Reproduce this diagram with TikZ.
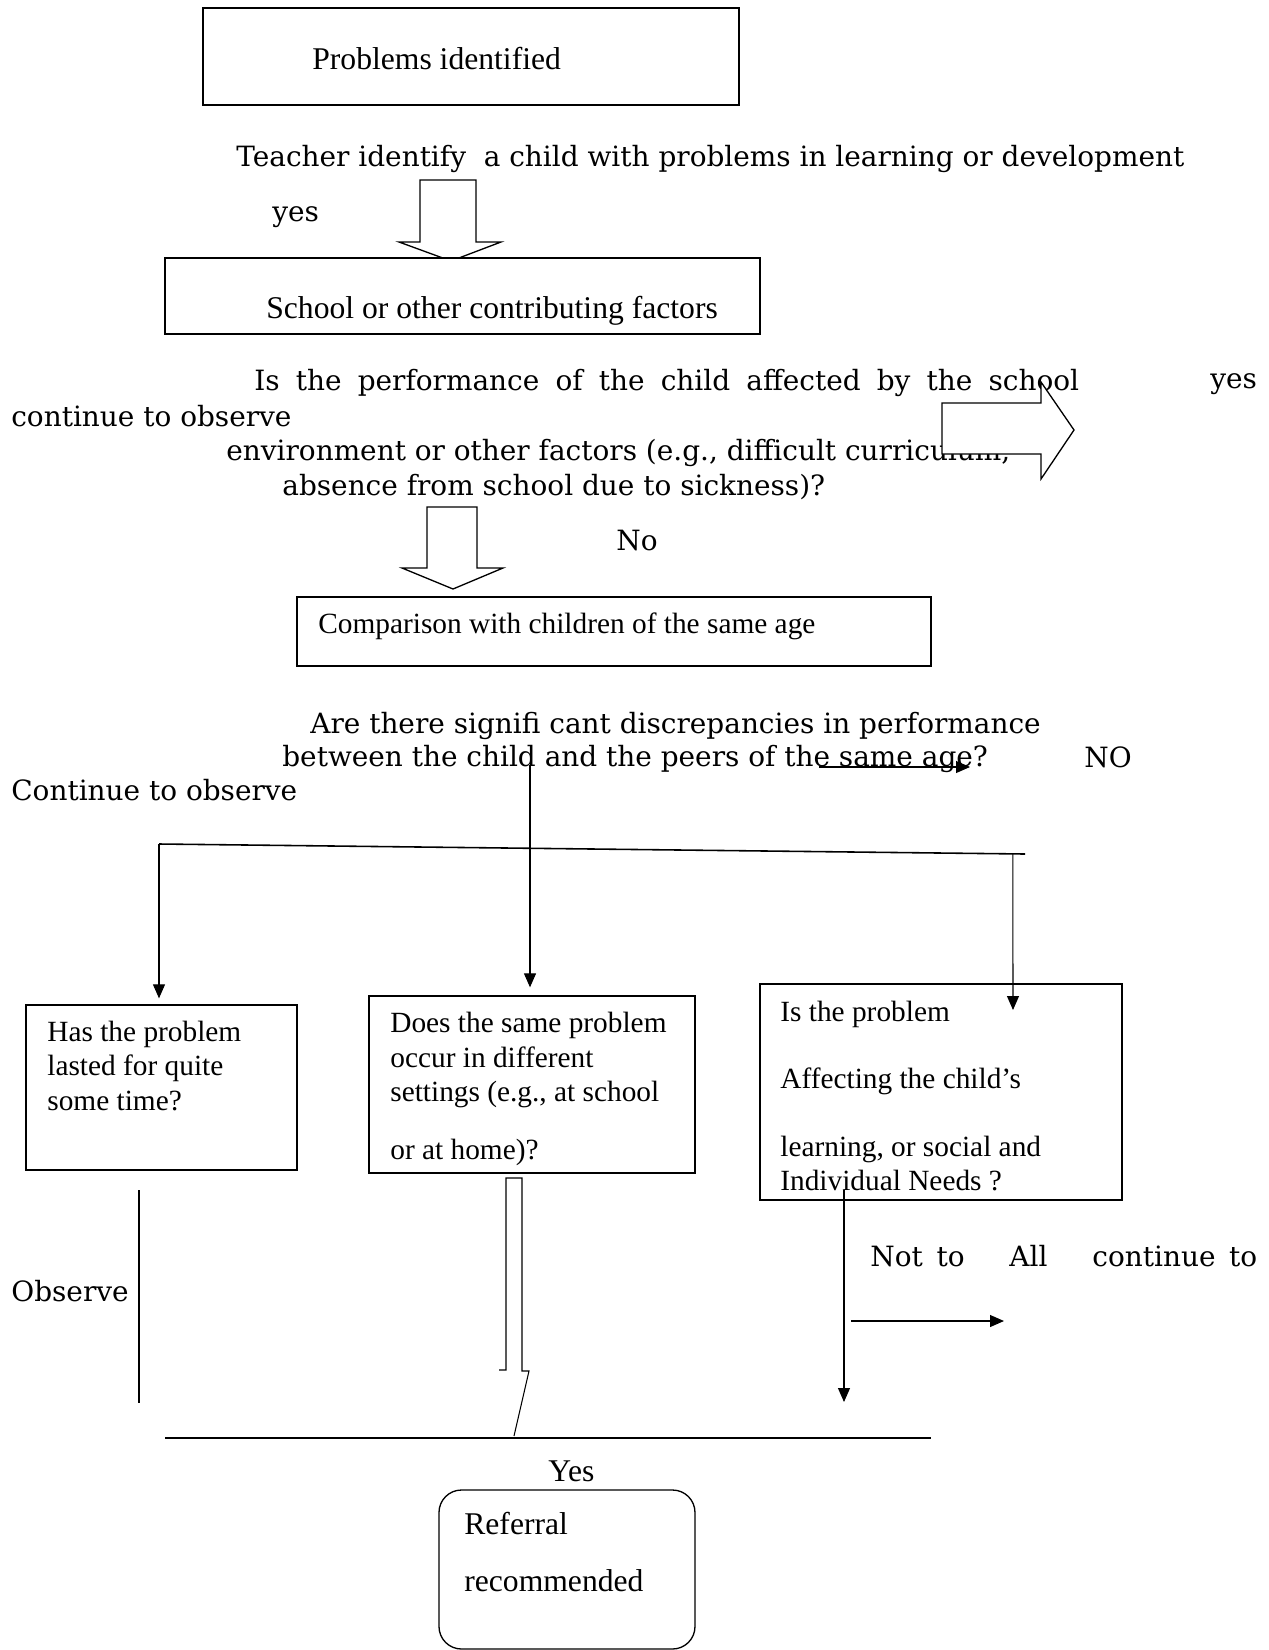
\documentclass[tikz,border=0pt]{standalone}
\usepackage{fontspec}
\setmainfont{Liberation Serif}
\newfontfamily\bookfont{DejaVu Serif}
\usetikzlibrary{arrows.meta, positioning, fit, calc}

\begin{document}
\begin{tikzpicture}[
    x=0.02cm, y=-0.02cm,
    box/.style={rectangle, draw, line width=0.75pt, inner sep=0pt},
    boxtxt/.style={inner sep=0pt, anchor=west, align=left, font=\fontsize{18}{19.4}\selectfont},
    smalltxt/.style={boxtxt, font=\fontsize{16.7}{19.4}\selectfont},
    freetxt/.style={inner sep=0pt, anchor=west, font=\bookfont\fontsize{15.9}{19.4}\selectfont},
    arrow/.style={-{Triangle[length=0.28cm, width=0.24cm]}, line width=0.6pt},
    link/.style={line width=0.6pt},
    hollow/.style={draw, fill=white, line width=0.75pt}
]
    \useasboundingbox (0,0) rectangle (1268,1650);

    % top of the chart
    \node[box, fit={(203,8) (739,105)}] (probbox) {};
    \node[boxtxt] (probtxt) at (312,59) {Problems identified};
    \node[freetxt] (teachtxt) at (236,159) {Teacher identify~ a child with problems in learning or development};
    \node[freetxt] (yestop) at (272,217) {yes};
    \draw[hollow] (420,180) -- (476,180) -- (476,242) -- (501,242) -- (451,261) -- (399,242) -- (420,242) -- cycle;
    \node[box, fill=white, fit={(165,258) (760,334)}] (schoolbox) {};
    \node[boxtxt] (schooltxt) at (266,311) {School or other contributing factors};

    % first question
    \node[freetxt] (perftxt) at (254,383) {\makebox[16.5cm][s]{Is the performance of the child affected by the school}};
    \node[freetxt] (yesright) at (1210,384) {yes};
    \node[freetxt] (contone) at (11,416) {continue to observe};
    \node[freetxt] (envtxt) at (226,453) {environment or other factors (e.g., difficult curriculum,};
    \node[freetxt] (abstxt) at (282,487) {absence from school due to sickness)?};
    \draw[hollow] (942,403) -- (1041,403) -- (1041,382) -- (1074,430) -- (1041,479) -- (1041,454) -- (942,454) -- cycle;
    \draw[hollow] (427,507) -- (477,507) -- (477,568) -- (503,568) -- (453,589) -- (402,568) -- (427,568) -- cycle;
    \node[freetxt] (notxt) at (616,541) {No};
    \node[box, fit={(297,597) (931,666)}] (compbox) {};
    \node[smalltxt] (comptxt) at (318,626) {Comparison with children of the same age};

    % second question
    \node[freetxt] (disctxt) at (310,726) {Are there signifi cant discrepancies in performance};
    \node[freetxt] (peertxt) at (282,759) {between the child and the peers of the same age?};
    \node[freetxt] (NOtxt) at (1084,757) {NO};
    \node[freetxt] (conttwo) at (11,790) {Continue to observe};
    \coordinate (noStart) at (819,767);
    \coordinate (noEnd) at (970,767);
    \draw[arrow] (noStart) -- (noEnd);

    % three checks
    \node[box, fit={(26,1005) (297,1170)}] (lastbox) {};
    \node[smalltxt] (lasttxt) at (47,1066) {Has the problem\\lasted for quite\\some time?};
    \node[box, fit={(369,996) (695,1173)}] (settingbox) {};
    \node[smalltxt] (settingtxt) at (390,1089) {Does the same problem\\occur in different\\settings (e.g., at school\\[0.48cm]or at home)?};
    \node[box, fit={(760,984) (1122,1200)}] (needbox) {};
    \node[smalltxt] (needtxt) at (780,1096) {Is the problem\\[0.67cm]Affecting the child’s\\[0.68cm]learning, or social and\\Individual Needs ?};

    \coordinate (dropM) at (530,765);
    \coordinate (splitL) at (159,844);
    \coordinate (splitR) at (1025,854);
    \coordinate (dropR) at ($(splitL)!0.986!(splitR)$);
    \coordinate (needTip) at (1013,1010);
    \draw[line width=0.9pt] (splitL) -- (splitR);
    \draw[arrow] (dropM) -- ($(dropM |- settingbox.north)+(0,-8)$);
    \draw[arrow] (splitL) -- ($(splitL |- lastbox.north)+(0,-6)$);
    \draw[arrow] (dropR) -- (needTip);

    % outcomes
    \node[freetxt] (obstxt) at (11,1291) {Observe};
    \coordinate (lastOut) at (139,1190);
    \coordinate (lastEnd) at (139,1403);
    \draw[link] (lastOut) -- (lastEnd);
    \draw[link] (499,1370) -- (506,1370) -- (506,1178) -- (522,1178) -- (522,1371) -- (529,1371) -- (514,1436);
    \coordinate (needOut) at (844,1190);
    \coordinate (needEnd) at (844,1402);
    \draw[arrow] (needOut) -- (needEnd);
    \node[freetxt] (notall) at (870,1256) {\makebox[7.74cm][s]{Not to \hspace{0.35cm} All \hspace{0.35cm} continue to}};
    \coordinate (allStart) at (851,1321);
    \coordinate (allEnd) at (1004,1321);
    \draw[arrow] (allStart) -- (allEnd);

    \coordinate (joinL) at (165,1438);
    \coordinate (joinR) at (931,1438);
    \draw[line width=0.9pt] (joinL) -- (joinR);
    \node[boxtxt] (yesbot) at (548,1471) {Yes};
    \node[box, rounded corners=0.45cm, fit={(439,1490) (695,1649)}] (referbox) {};
    \node[boxtxt] (refertxt) at (464,1552) {Referral\\[0.46cm]recommended};
\end{tikzpicture}
\end{document}
